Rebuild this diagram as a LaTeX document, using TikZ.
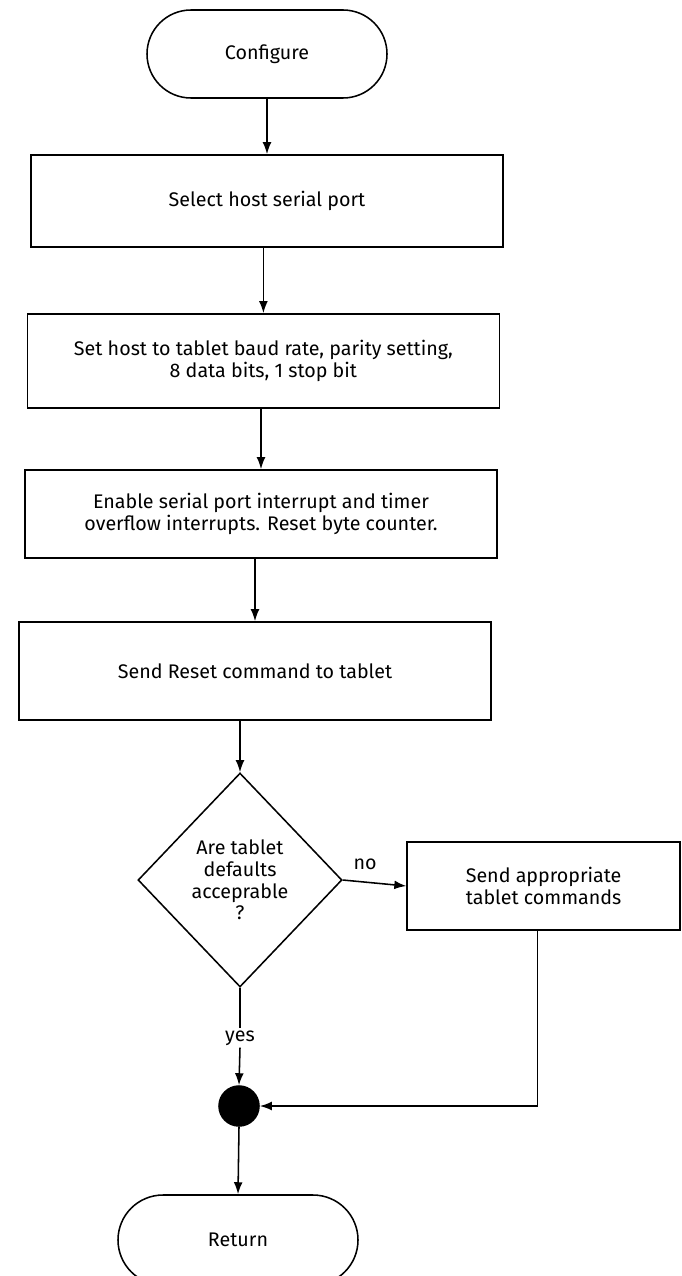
\documentclass[tikz,border=0pt]{standalone}
\usepackage{fontspec}
\setmainfont{Fira Sans}
\usepackage{tikz}
\usetikzlibrary{arrows.meta, shapes.geometric, shapes.misc, positioning}
\tikzset{
    termnode/.style = {draw, rounded rectangle, inner sep = 0em, minimum width=6cm, 
      minimum height=2.2cm, node distance=0em},
    boxnode/.style = {draw, rectangle, inner sep = 0em, minimum width=11.8cm, node distance=0em},
    decnode/.style = {draw, diamond, inner sep = 0em, minimum width=5.1cm, minimum height=5.35cm, 
      node distance=0em},
    textnode/.style  = {draw=none, fill=none, rectangle, inner sep = 0.1em, node distance=0em},
    dotnode/.style = {draw, fill=black, circle, minimum size=1cm, inner sep = 0em, node distance=0em},
    connect/.style = {black, -{Latex[length=3mm, width=2.2mm]}},
    every text node part/.style={align=center}
}

\begin{document}
\begin{tikzpicture}[line width=1.1pt, font=\fontsize{14}{15.5}\selectfont]
    \useasboundingbox (0,0) rectangle (17.025,-31.9);

    \node [name=cfg, termnode] at (6.675,-1.35) {Configure};

    \node [name=sel, boxnode, minimum height=2.3cm, below of = cfg, xshift=0cm, yshift=-3.675cm] 
        {Select host serial port};
    \node [name=hst, boxnode, minimum height=2.35cm, below of = cfg, xshift=-0.09cm, yshift=-7.675cm] 
        {Set host to tablet baud rate, parity setting,\\8 data bits, 1 stop bit};
    \node [name=enb, boxnode, minimum height=2.2cm, below of = cfg, xshift=-0.15cm, yshift=-11.5cm] 
        {Enable serial port interrupt and timer\\overflow interrupts. Reset byte counter.};
    \node [name=rst, boxnode, minimum height=2.45cm, below of = cfg, xshift=-0.3cm, yshift=-15.425cm] 
        {Send Reset command to tablet};

    \node [name=dia, decnode, below of = cfg, xshift=-0.675cm, yshift=-20.65cm] 
        {Are tablet\\defaults\\acceprable\\?};
    \node [name=snd, boxnode, minimum width=6.825cm, minimum height=2.2cm, 
        below of = cfg, xshift=6.915cm, yshift=-20.8cm] {Send appropriate\\tablet commands};

    \node [name=yes, textnode, below of = cfg, xshift=-0.675cm, yshift=-24.6cm] {yes};
    \node [name=dot, dotnode, below of = cfg, xshift=-0.7cm, yshift=-26.3cm] {};
    \node [name=ret, termnode, minimum height=2.25cm, 
        below of = cfg, xshift=-0.725cm, yshift=-29.65cm] {Return};

    \draw [connect] (cfg.south) -- (cfg.south |- sel.north);
    \draw [connect] (hst.north |- sel.south) -- (hst.north);
    \draw [connect] (enb.north |- hst.south) -- (enb.north);
    \draw [connect] (rst.north |- enb.south) -- (rst.north);
    \draw [connect] (dia.north |- rst.south) -- (dia.north);
    \draw [connect] (dia.east) -- node [name=no, textnode, above, pos=0.35, yshift=0.25cm] {no} (snd.west);
    \draw (dia.south) -- (yes.north);
    \draw [connect] (yes.south) -- (dot.north);
    \draw [connect] ([xshift=-0.15cm]snd.south) |- (dot.east);
    \draw [connect] (dot.south) -- (ret.north);
\end{tikzpicture}
\end{document}
